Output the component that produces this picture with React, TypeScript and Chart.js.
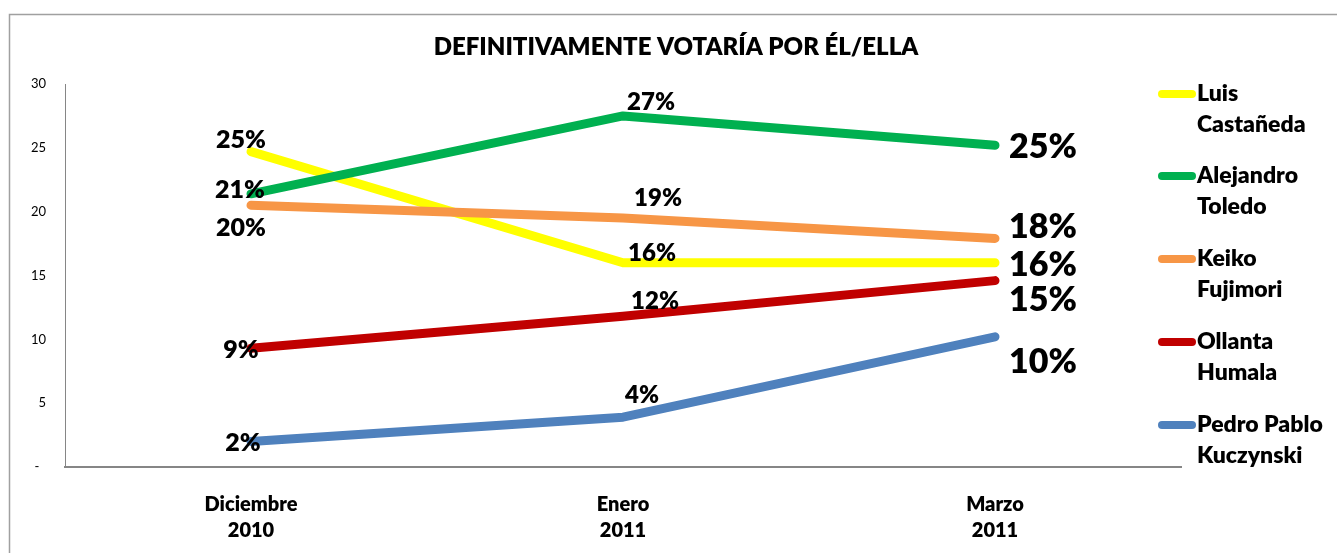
import React, { useEffect, useRef } from "react";
import { Chart, registerables } from "chart.js";

Chart.register(...registerables);

// ---- data ----
const chartTitle = "DEFINITIVAMENTE VOTARÍA POR ÉL/ELLA";
const categories = [
  ["Diciembre", "2010"],
  ["Enero", "2011"],
  ["Marzo", "2011"],
];
const seriesNames = [
  ["Luis", "Castañeda"],
  ["Alejandro", "Toledo"],
  ["Keiko", "Fujimori"],
  ["Ollanta", "Humala"],
  ["Pedro Pablo", "Kuczynski"],
];
const castaneda = [24.7, 16.0, 16.0];
const toledo = [21.4, 27.5, 25.2];
const fujimori = [20.5, 19.5, 17.9];
const humala = [9.3, 11.8, 14.6];
const kuczynski = [2.0, 3.9, 10.2];

const castanedaLabels = ["25%", "16%", "16%"];
const toledoLabels = ["21%", "27%", "25%"];
const fujimoriLabels = ["20%", "19%", "18%"];
const humalaLabels = ["9%", "12%", "15%"];
const kuczynskiLabels = ["2%", "4%", "10%"];

const yMin = 0;
const yMax = 30;
const yStep = 5;

// ---- styles ----
const colors = ["#FFFF00", "#00B050", "#F79646", "#C00000", "#4F81BD"];
const FONT = "Lato, 'Open Sans', 'Liberation Sans', sans-serif";
const W = "800";
// label placement offsets [dx, dy] from the point (center-aligned for first two categories, left-aligned for last)
const labelOffsets = [
  [[-10, -12], [29, -9], [14, 2]],
  [[-11, -4], [28, -14], [14, 2]],
  [[-10, 23], [35, -20], [14, -11]],
  [[-10, 2], [32, -15], [14, 19]],
  [[-8, 1], [19, -22], [14, 25]],
];
const labelFontSizes = [25, 24, 34];
const legendTops = [94, 176, 259, 342, 425];

export default function App() {
  const ref = useRef<HTMLCanvasElement | null>(null);

  useEffect(() => {
    document.body.style.margin = "0";
    const canvas = ref.current;
    if (!canvas) return;
    const values = [castaneda, toledo, fujimori, humala, kuczynski];
    const labels = [castanedaLabels, toledoLabels, fujimoriLabels, humalaLabels, kuczynskiLabels];

    const decorPlugin = {
      id: "decor",
      beforeDraw(chart: any) {
        const ctx = chart.ctx;
        ctx.save();
        ctx.fillStyle = "#ffffff";
        ctx.fillRect(0, 0, chart.width, chart.height);
        ctx.strokeStyle = "#A0A0A0";
        ctx.lineWidth = 1.5;
        ctx.strokeRect(9.5, 14.5, chart.width + 20, chart.height + 20);
        ctx.fillStyle = "#000";
        ctx.font = `${W} 24px ${FONT}`;
        ctx.textAlign = "center";
        ctx.textBaseline = "middle";
        ctx.fillText(chartTitle, 676, 47);
        ctx.restore();
      },
      afterDatasetsDraw(chart: any) {
        const ctx = chart.ctx;
        ctx.save();
        ctx.fillStyle = "#000";
        ctx.textBaseline = "middle";
        chart.data.datasets.forEach((ds: any, i: number) => {
          const meta = chart.getDatasetMeta(i);
          meta.data.forEach((pt: any, j: number) => {
            const [dx, dy] = labelOffsets[i][j];
            ctx.font = `${W} ${labelFontSizes[j]}px ${FONT}`;
            ctx.textAlign = j === 2 ? "left" : "center";
            ctx.fillText(labels[i][j], pt.x + dx, pt.y + dy);
          });
        });
        // legend
        seriesNames.forEach((name, i) => {
          const y = legendTops[i];
          ctx.strokeStyle = colors[i];
          ctx.lineWidth = 8;
          ctx.lineCap = "round";
          ctx.beginPath();
          ctx.moveTo(1162, y);
          ctx.lineTo(1192, y);
          ctx.stroke();
          ctx.fillStyle = "#000";
          ctx.font = `${W} 23px ${FONT}`;
          ctx.textAlign = "left";
          name.forEach((line, k) => ctx.fillText(line, 1197, y + k * 31));
        });
        ctx.restore();
      },
    };

    const chart = new Chart(canvas, {
      type: "line",
      data: {
        labels: categories,
        datasets: values.map((v, i) => ({
          label: seriesNames[i].join(" "),
          data: v,
          borderColor: colors[i],
          backgroundColor: colors[i],
          borderWidth: 9,
          pointRadius: 0,
          borderCapStyle: "round",
          borderJoinStyle: "round",
          tension: 0,
          order: 5 - i,
        })),
      },
      options: {
        responsive: false,
        animation: false,
        layout: { padding: { top: 84, right: 156, left: 0, bottom: 0 } },
        plugins: {
          legend: { display: false },
          title: { display: false },
          tooltip: { enabled: false },
        },
        scales: {
          x: {
            offset: true,
            grid: { display: false, drawTicks: false },
            border: { display: true, color: "#868686", width: 2 },
            afterFit(scale: any) {
              scale.height = 86;
            },
            ticks: {
              color: "#000",
              padding: 25,
              font: { family: FONT, size: 20, weight: W, lineHeight: 1.3 },
            },
          },
          y: {
            min: yMin,
            max: yMax,
            grid: { display: false, drawTicks: false },
            border: { display: true, color: "#868686", width: 1 },
            afterFit(scale: any) {
              scale.width = 65;
            },
            ticks: {
              stepSize: yStep,
              color: "#000",
              padding: 19,
              font: { family: FONT, size: 13 },
              callback: (v: any) => (v === 0 ? "-  " : String(v)),
            },
          },
        },
      },
      plugins: [decorPlugin],
    });
    return () => chart.destroy();
  }, []);

  return <canvas ref={ref} width={1337} height={553} style={{ display: "block" }} />;
}
